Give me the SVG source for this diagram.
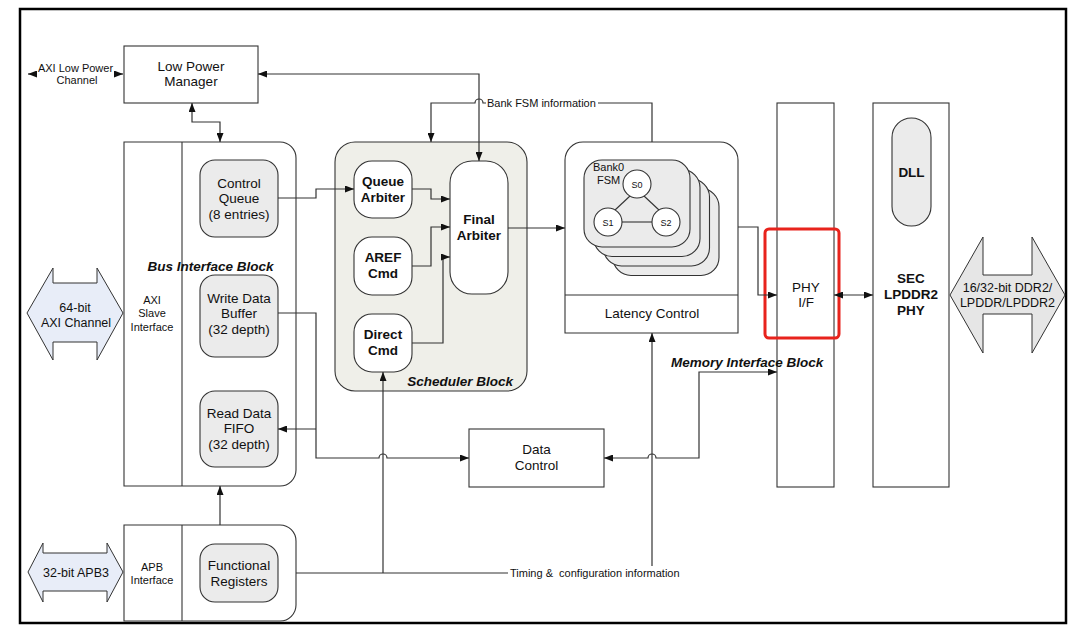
<svg xmlns="http://www.w3.org/2000/svg" width="1077" height="633" viewBox="0 0 1077 633">
<style>
text{font-family:"Liberation Sans",Arial,sans-serif;fill:#111;}
.t{font-size:13.5px;text-anchor:middle;}
.tb{font-size:13.5px;text-anchor:middle;font-weight:bold;}
.bi{font-size:13.5px;font-weight:bold;font-style:italic;}
.s{font-size:11px;text-anchor:middle;}
.sl{font-size:11px;}
.m{font-size:12.5px;text-anchor:middle;}
.box{fill:#fff;stroke:#333;stroke-width:1.1;}
.gr{fill:#ebebeb;stroke:#333;stroke-width:1.1;}
.ln{fill:none;stroke:#333;stroke-width:1.1;}
.c{fill:none;stroke:#333;stroke-width:1.2;}
.a{marker-end:url(#arr);}
.b{marker-start:url(#arr);marker-end:url(#arr);}
</style>
<defs>
<marker id="arr" viewBox="0 0 9 7" refX="9" refY="3.5" markerWidth="9" markerHeight="7" markerUnits="userSpaceOnUse" orient="auto-start-reverse">
<path d="M0,0 L9,3.5 L0,7 z" fill="#111"/>
</marker>
</defs>
<rect x="0" y="0" width="1077" height="633" fill="#fff"/>
<rect x="20" y="9" width="1046" height="614" fill="none" stroke="#000" stroke-width="2.5"/>

<g id="low-power-manager">
<rect class="box" x="124" y="46" width="134" height="57"/>
<text class="t" x="191" y="70.5">Low Power</text>
<text class="t" x="191" y="86">Manager</text>
</g>
<g id="axi-low-power-channel">
<text class="s" x="75.5" y="72">AXI Low Power</text>
<text class="s" x="77" y="84">Channel</text>
</g>

<g id="axi-channel">
<polygon points="27,313 53,268 53,283 97,283 97,268 123,313 97,360 97,342 53,342 53,360" fill="#e8edf8" stroke="#333" stroke-width="1"/>
<text class="m" x="75" y="311.5">64-bit</text>
<text class="m" x="76" y="326.5">AXI Channel</text>
</g>

<g id="bus-interface-block">
<path class="box" d="M124,142 H280 A16,16 0 0 1 296,158 V470 A16,16 0 0 1 280,486 H124 Z"/>
<line class="ln" x1="182" y1="142" x2="182" y2="486"/>
<text class="s" x="152" y="304">AXI</text>
<text class="s" x="152" y="317">Slave</text>
<text class="s" x="152" y="331">Interface</text>
<text class="bi" x="210.5" y="271" text-anchor="middle">Bus Interface Block</text>
</g>
<g id="control-queue">
<rect class="gr" x="200" y="160" width="78" height="77" rx="15"/>
<text class="t" x="239" y="188">Control</text>
<text class="t" x="239" y="203">Queue</text>
<text class="t" x="239" y="219">(8 entries)</text>
</g>
<g id="write-data-buffer">
<rect class="gr" x="200" y="275" width="78" height="82" rx="15"/>
<text class="t" x="239" y="303">Write Data</text>
<text class="t" x="239" y="318">Buffer</text>
<text class="t" x="239" y="334">(32 depth)</text>
</g>
<g id="read-data-fifo">
<rect class="gr" x="200" y="391" width="78" height="76" rx="15"/>
<text class="t" x="239" y="418">Read Data</text>
<text class="t" x="239" y="433">FIFO</text>
<text class="t" x="239" y="449">(32 depth)</text>
</g>

<g id="apb3">
<polygon points="28,572 43,543 43,553 107,553 107,543 123,572 107,602 107,591 43,591 43,602" fill="#e8edf8" stroke="#333" stroke-width="1"/>
<text class="m" x="76" y="576.5">32-bit APB3</text>
</g>
<g id="apb-block">
<path class="box" d="M124,525 H280 A16,16 0 0 1 296,541 V605 A16,16 0 0 1 280,621 H124 Z"/>
<line class="ln" x1="182" y1="525" x2="182" y2="621"/>
<text class="s" x="152" y="571">APB</text>
<text class="s" x="152" y="583.5">Interface</text>
</g>
<g id="functional-registers">
<rect class="gr" x="200" y="544" width="78" height="58" rx="15"/>
<text class="t" x="239" y="570">Functional</text>
<text class="t" x="239" y="586">Registers</text>
</g>

<g id="scheduler-block">
<rect x="335" y="142" width="192" height="249" rx="20" fill="#efefe9" stroke="#333" stroke-width="1.1"/>
<text class="bi" x="513" y="386" text-anchor="end">Scheduler Block</text>
</g>
<g id="queue-arbiter">
<rect class="box" x="354" y="161" width="58" height="57" rx="18"/>
<text class="tb" x="383" y="186">Queue</text>
<text class="tb" x="383" y="202">Arbiter</text>
</g>
<g id="aref-cmd">
<rect class="box" x="354" y="237" width="58" height="58" rx="18"/>
<text class="tb" x="383" y="262">AREF</text>
<text class="tb" x="383" y="278">Cmd</text>
</g>
<g id="direct-cmd">
<rect class="box" x="354" y="314" width="58" height="58" rx="18"/>
<text class="tb" x="383" y="339">Direct</text>
<text class="tb" x="383" y="355">Cmd</text>
</g>
<g id="final-arbiter">
<rect class="box" x="450" y="161" width="58" height="133" rx="22"/>
<text class="tb" x="479" y="224">Final</text>
<text class="tb" x="479" y="240">Arbiter</text>
</g>

<g id="latency-block">
<path class="box" d="M565,333 V160 A18,18 0 0 1 583,142 H720 A18,18 0 0 1 738,160 V333 Z"/>
<line class="ln" x1="565" y1="295" x2="738" y2="295"/>
<text class="t" x="652" y="318">Latency Control</text>
</g>
<g id="bank-fsm">
<rect class="gr" x="613" y="188.5" width="106" height="87" rx="18"/>
<rect class="gr" x="603.5" y="179" width="106" height="87" rx="18"/>
<rect class="gr" x="594" y="169.5" width="106" height="87" rx="18"/>
<rect class="gr" x="584" y="160" width="106" height="87" rx="18"/>
<text class="sl" x="593" y="171">Bank0</text>
<text class="sl" x="597" y="184">FSM</text>
<line class="ln" x1="630" y1="196" x2="615" y2="210"/>
<line class="ln" x1="644" y1="196" x2="659" y2="210"/>
<line class="ln" x1="622" y1="222" x2="652" y2="222"/>
<circle cx="637" cy="184" r="14" fill="#fff" stroke="#333" stroke-width="1.1"/>
<circle cx="608" cy="222" r="14" fill="#fff" stroke="#333" stroke-width="1.1"/>
<circle cx="666" cy="222" r="14" fill="#fff" stroke="#333" stroke-width="1.1"/>
<text x="637" y="187.5" font-size="9" text-anchor="middle">S0</text>
<text x="608" y="225.5" font-size="9" text-anchor="middle">S1</text>
<text x="666" y="225.5" font-size="9" text-anchor="middle">S2</text>
</g>

<g id="data-control">
<rect class="box" x="469" y="429" width="135" height="58"/>
<text class="t" x="536.5" y="454">Data</text>
<text class="t" x="536.5" y="470">Control</text>
</g>

<g id="phy-if">
<rect class="box" x="777" y="103" width="57" height="384"/>
<text class="t" x="806" y="292">PHY</text>
<text class="t" x="806" y="307">I/F</text>
<rect x="765" y="229" width="74" height="109" rx="4" fill="none" stroke="#e8231c" stroke-width="3"/>
</g>
<g id="memory-interface-label">
<text class="bi" x="671" y="367">Memory Interface Block</text>
</g>
<g id="sec-phy">
<rect class="box" x="873" y="103" width="76" height="384"/>
<rect class="gr" x="892" y="118" width="39" height="108" rx="19.5"/>
<text class="tb" x="911.5" y="177">DLL</text>
<text class="tb" x="911" y="283">SEC</text>
<text class="tb" x="911" y="299">LPDDR2</text>
<text class="tb" x="911" y="315">PHY</text>
</g>
<g id="ddr-channel">
<polygon points="950,295 983,237 983,275 1032,275 1032,237 1065,295 1032,353 1032,314 983,314 983,353" fill="#e6e6e6" stroke="#333" stroke-width="1"/>
<text x="1007.5" y="291.5" font-size="12.5" text-anchor="middle">16/32-bit DDR2/</text>
<text x="1007.5" y="306.5" font-size="12.5" text-anchor="middle">LPDDR/LPDDR2</text>
</g>

<g id="connectors">
<path class="c a" d="M37,74 H28"/>
<path class="c a" d="M114,74 H123"/>
<path class="c b" d="M258,74 H479 V161"/>
<path class="c b" d="M192,103 V122 H220 V142"/>
<path class="c" d="M652,142 V103 H598"/>
<path class="c a" d="M486,103 H483 A4,4 0 0 0 475,103 H431 V142"/>
<text class="sl" x="487" y="107">Bank FSM information</text>
<path class="c a" d="M278,198 H316 V189 H354"/>
<path class="c a" d="M412,189 H431 V199 H450"/>
<path class="c a" d="M412,266 H431 V227 H450"/>
<path class="c a" d="M412,343 H443 V257 H450"/>
<path class="c a" d="M508,228 H565"/>
<path class="c a" d="M738,227 H758 V295 H777"/>
<path class="c b" d="M834,295 H873"/>
<path class="c a" d="M278,313 H316 V458 H379 A4,4 0 0 1 387,458 H469"/>
<path class="c a" d="M316,429 H278"/>
<path class="c b" d="M777,372 H699 V458 H656 A4,4 0 0 0 648,458 H604"/>
<path class="c a" d="M220,525 V486"/>
<path class="c" d="M296,573 H508"/>
<path class="c a" d="M383,573 V372"/>
<path class="c a" d="M652,566 V333"/>
<text class="sl" x="510" y="577" style="white-space:pre" xml:space="preserve">Timing &amp;  configuration information</text>
</g>
</svg>
